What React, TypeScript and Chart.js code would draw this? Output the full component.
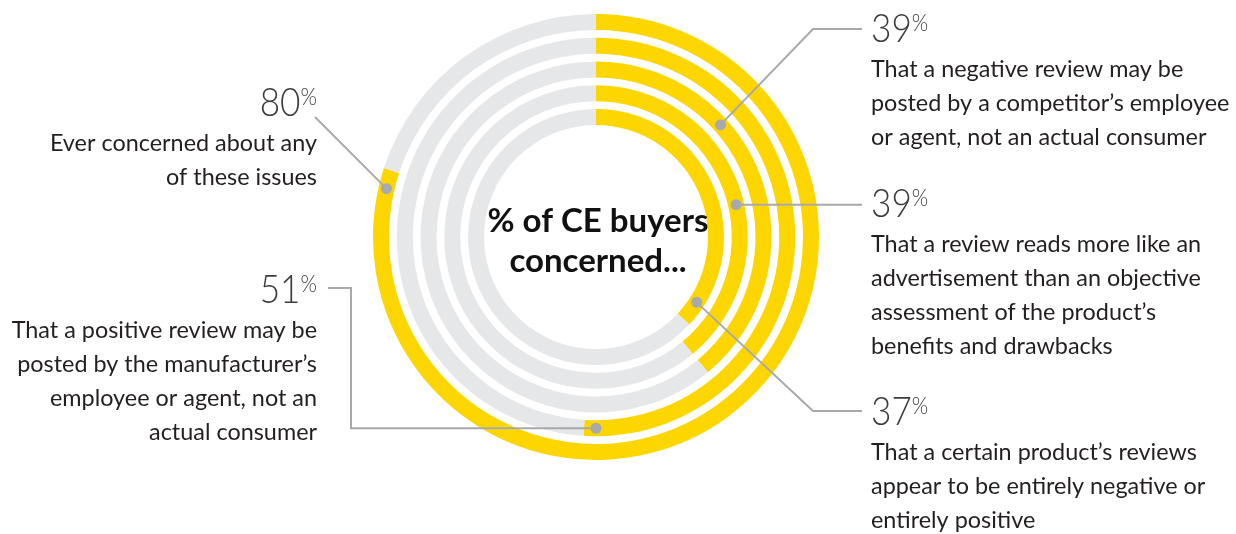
import React, { useEffect, useRef } from "react";
import { Chart, registerables } from "chart.js";

Chart.register(...registerables);

// ---- data ----
const ringValues = [80, 51, 39, 39, 37];
const ringDescriptions = [
  ["Ever concerned about any", "of these issues"],
  ["That a positive review may be", "posted by the manufacturer’s", "employee or agent, not an", "actual consumer"],
  ["That a negative review may be", "posted by a competitor’s employee", "or agent, not an actual consumer"],
  ["That a review reads more like an", "advertisement than an objective", "assessment of the product’s", "benefits and drawbacks"],
  ["That a certain product’s reviews", "appear to be entirely negative or", "entirely positive"],
];
const centerTitle = ["% of CE buyers", "concerned..."];

// ---- styles / layout (annotation placement) ----
const YELLOW = "#FDD600";
const TRACK = "#E6E7E8";
const LEADER = "#A7A9AC";
const TEXT = "#231F20";
const W = 1236;
const H = 534;

// clock angle (deg, from 12 o'clock clockwise) where each leader dot sits on its ring
const dotAngles = [283, 180, 48, 77, 123];
// side of each label, anchor x, and baseline of the big number
const labelSide = ["left", "left", "right", "right", "right"];
const labelX = [317, 317, 871, 871, 871];
const numberBaseline = [116, 303, 42, 217, 425];
// leader routes after the dot: list of points; null y => use dot y
const leaderRoutes: (number | null)[][][] = [
  [[315, 117]],
  [[351, null], [351, 288], [328, 288]],
  [[813, 29], [862, 29]],
  [[862, null]],
  [[813, 411], [862, 411]],
];

const RING_WEIGHT = 16;
const GAP_WEIGHT = 7.75;
const LINE_GAP = 34;
const FIRST_LINE_GAP = 35;
const TEXT_SX = 0.975;
const NUM_SX = 0.88;

function drawScaled(ctx: CanvasRenderingContext2D, text: string, x: number, y: number, sx: number) {
  ctx.save();
  ctx.translate(x, y);
  ctx.scale(sx, 1);
  ctx.fillText(text, 0, 0);
  ctx.restore();
}

const annotationPlugin = {
  id: "ringAnnotations",
  afterDraw(chart: any) {
    const ctx: CanvasRenderingContext2D = chart.ctx;
    ctx.save();
    // center title
    ctx.fillStyle = "#111111";
    ctx.font = "bold 33px Lato";
    ctx.textAlign = "center";
    ctx.textBaseline = "alphabetic";
    const first = chart.getDatasetMeta(0).data[0];
    const cx = first.x;
    drawScaled(ctx, centerTitle[0], cx + 2, 232, 1.0);
    drawScaled(ctx, centerTitle[1], cx + 2, 272, 1.0);

    ringValues.forEach((v, i) => {
      const meta = chart.getDatasetMeta(i * 2);
      const arc = meta.data[0];
      const r = (arc.innerRadius + arc.outerRadius) / 2;
      const a = ((dotAngles[i] - 90) * Math.PI) / 180;
      const dx = arc.x + r * Math.cos(a);
      const dy = arc.y + r * Math.sin(a);

      // leader line
      ctx.strokeStyle = LEADER;
      ctx.lineWidth = 2;
      ctx.lineJoin = "miter";
      ctx.beginPath();
      ctx.moveTo(dx, dy);
      leaderRoutes[i].forEach((p) => {
        ctx.lineTo(p[0] as number, p[1] == null ? dy : (p[1] as number));
      });
      ctx.stroke();
      // dot
      ctx.fillStyle = LEADER;
      ctx.beginPath();
      ctx.arc(dx, dy, 5.5, 0, Math.PI * 2);
      ctx.fill();

      // number + percent
      const side = labelSide[i];
      const x = labelX[i];
      const nb = numberBaseline[i];
      const numText = String(v);
      ctx.fillStyle = "#3C3C3C";
      ctx.font = "300 40px Lato";
      const numW = ctx.measureText(numText).width * NUM_SX;
      ctx.font = "300 24px Lato";
      const pctW = ctx.measureText("%").width * NUM_SX;
      ctx.textAlign = "left";
      const nx = side === "left" ? x - pctW - numW : x;
      ctx.font = "300 40px Lato";
      drawScaled(ctx, numText, nx, nb, NUM_SX);
      ctx.font = "300 24px Lato";
      drawScaled(ctx, "%", nx + numW, nb - 11, NUM_SX);

      // description
      ctx.fillStyle = TEXT;
      ctx.font = "24px Lato";
      ctx.textAlign = side === "left" ? "right" : "left";
      ringDescriptions[i].forEach((line, j) => {
        drawScaled(ctx, line, x, nb + FIRST_LINE_GAP + j * LINE_GAP, TEXT_SX);
      });
    });
    ctx.restore();
  },
};

export default function App() {
  const ref = useRef<HTMLCanvasElement | null>(null);
  useEffect(() => {
    if (!ref.current) return;
    const datasets: any[] = [];
    ringValues.forEach((v, i) => {
      datasets.push({
        data: [v, 100 - v],
        backgroundColor: [YELLOW, TRACK],
        borderWidth: 0,
        weight: RING_WEIGHT,
      });
      if (i < ringValues.length - 1) {
        datasets.push({
          data: [100],
          backgroundColor: ["rgba(0,0,0,0)"],
          borderWidth: 0,
          weight: GAP_WEIGHT,
        });
      }
    });
    const chart = new Chart(ref.current, {
      type: "doughnut",
      data: { labels: ["Concerned", "Not concerned"], datasets },
      options: {
        responsive: false,
        animation: false,
        cutout: 112,
        layout: { padding: { left: 373, right: 417, top: 14, bottom: 74 } },
        plugins: { legend: { display: false }, tooltip: { enabled: false } },
        events: [],
      },
      plugins: [annotationPlugin],
    });
    return () => chart.destroy();
  }, []);
  return (
    <div style={{ position: "fixed", left: 0, top: 0, width: W, height: H, background: "#fff" }}>
      <canvas ref={ref} width={W} height={H} style={{ width: W, height: H, display: "block" }} />
    </div>
  );
}
